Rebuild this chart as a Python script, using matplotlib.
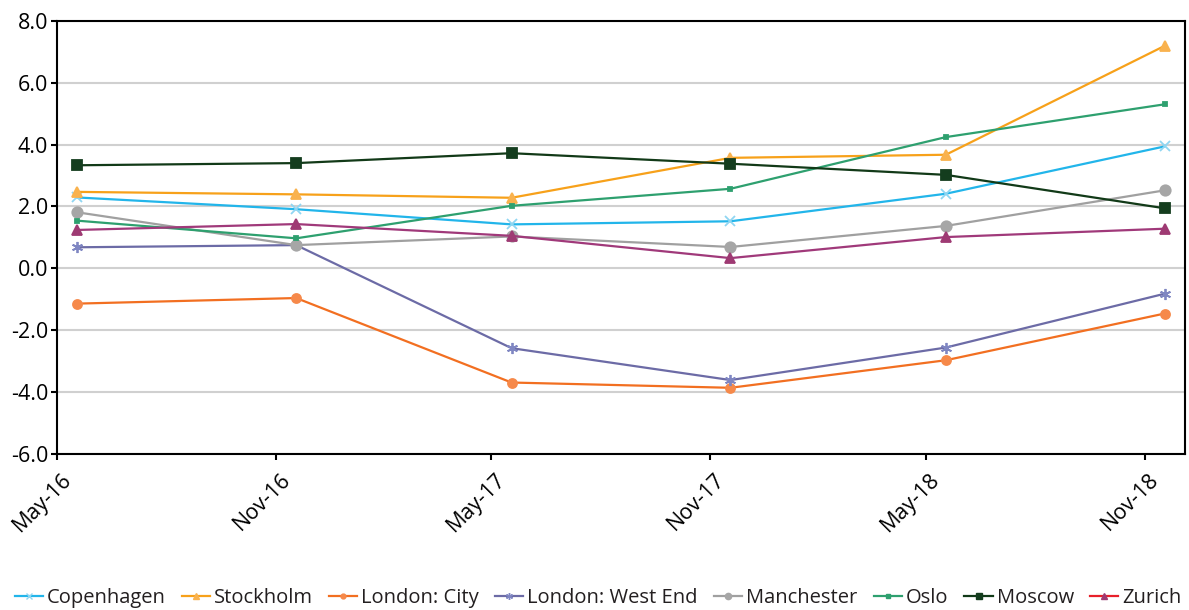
import datetime as dt
import matplotlib
matplotlib.use("Agg")
import matplotlib.pyplot as plt
import matplotlib.dates as mdates
from matplotlib.lines import Line2D

plt.rcParams['font.family'] = ['Open Sans', 'DejaVu Sans']

# survey dates (points sit a little after the month ticks, as in the source)
dates = [dt.date(2016, 5, 18), dt.date(2016, 11, 18), dt.date(2017, 5, 18),
         dt.date(2017, 11, 18), dt.date(2018, 5, 18), dt.date(2018, 11, 18)]
tick_dates = [dt.date(2016, 5, 1), dt.date(2016, 11, 1), dt.date(2017, 5, 1),
              dt.date(2017, 11, 1), dt.date(2018, 5, 1), dt.date(2018, 11, 1)]
tick_labels = ["May-16", "Nov-16", "May-17", "Nov-17", "May-18", "Nov-18"]

copenhagen = [2.29, 1.91, 1.42, 1.52, 2.41, 3.94]
stockholm = [2.47, 2.39, 2.28, 3.57, 3.67, 7.19]
london_city = [-1.14, -0.96, -3.69, -3.86, -2.97, -1.46]
london_west_end = [0.68, 0.75, -2.58, -3.61, -2.56, -0.82]
manchester = [1.81, 0.75, 1.03, 0.69, 1.37, 2.52]
oslo = [1.54, 0.97, 2.02, 2.57, 4.24, 5.30]
moscow = [3.33, 3.40, 3.72, 3.38, 3.02, 1.94]
zurich = [1.24, 1.43, 1.05, 0.33, 1.01, 1.28]

series = [
    ("Copenhagen", copenhagen, "#22b5ea", "x", "#8fd6f2", 7),
    ("Stockholm", stockholm, "#f7a11a", "^", "#f9b24e", 7.5),
    ("London: City", london_city, "#f26f21", "o", "#f6894a", 6.5),
    ("London: West End", london_west_end, "#6c6ba6", (6, 2, 0), "#7f86c2", 8),
    ("Manchester", manchester, "#a0a0a0", "o", "#a6a6a6", 7.5),
    ("Oslo", oslo, "#2ea06f", "s", "#2ea06f", 3.5),
    ("Moscow", moscow, "#123a18", "s", "#143d1e", 7.5),
    ("Zurich", zurich, "#a0397a", "^", "#9e3a73", 7.5),
]

fig = plt.figure(figsize=(11.89, 6.10), dpi=100)
ax = fig.add_axes([0.048, 0.2557, 0.9486, 0.7103])

handles = []
for name, vals, col, mk, mcol, ms in series:
    ax.plot(dates, vals, color=col, lw=1.6, marker=mk, markersize=ms,
            markerfacecolor=mcol, markeredgecolor=mcol, markeredgewidth=1.3,
            zorder=3)
    line_col = "#e8202a" if name == "Zurich" else col
    handles.append(Line2D([], [], color=line_col, lw=1.6, marker=mk,
                          markersize=max(ms - 3, 3), markerfacecolor=mcol,
                          markeredgecolor=mcol, label=name))

ax.set_ylim(-6, 8)
ax.set_yticks(range(-6, 9, 2))
ax.yaxis.set_major_formatter(matplotlib.ticker.FormatStrFormatter("%.1f"))
ax.set_xlim(dt.date(2016, 5, 1), dt.date(2018, 12, 5))
ax.set_xticks([mdates.date2num(d) for d in tick_dates])
ax.set_xticklabels([])

# rotated month labels, nudged right of their tick like the source
for d, lab in zip(tick_dates, tick_labels):
    ax.annotate(lab, xy=(mdates.date2num(d), 0), xycoords=ax.get_xaxis_transform(),
                xytext=(8, -16), textcoords="offset points", rotation=45,
                rotation_mode="anchor", ha="right", va="center", fontsize=15.5,
                annotation_clip=False)

ax.grid(axis="y", color="#d0d0d0", lw=1.5, zorder=0)
ax.set_axisbelow(True)
ax.tick_params(axis="both", direction="out", length=4, width=1.5,
               labelsize=15.5, colors="black", pad=2.5)
for sp in ax.spines.values():
    sp.set_linewidth(1.5)
    sp.set_color("black")

fig.legend(handles=handles, loc="center", bbox_to_anchor=(0.503, 0.02),
           ncol=8, frameon=False, fontsize=14.5, handlelength=1.4,
           handletextpad=0.2, columnspacing=0.8, labelcolor="#231f20")

fig.savefig("out.png", dpi=100)
